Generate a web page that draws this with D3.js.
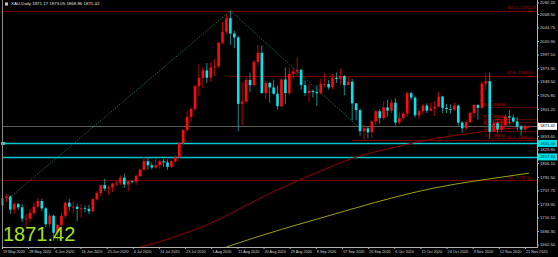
<!DOCTYPE html>
<html>
<head>
<meta charset="utf-8">
<script src="https://cdn.jsdelivr.net/npm/d3@7"></script>
<style>
html, body { margin: 0; padding: 0; background: #000; overflow: hidden; }
</style>
</head>
<body>
<div id="canvas"></div>
<script>
"use strict";

let svgWidth = 558;
let svgHeight = 257;

// Daily bars, 19 May 2020 .. 23 Nov 2020
let opens  = [1732,1745,1748,1725,1735,1729,1709,1709,1719,1730,1740,1727,1699,1714,1684,1698,1714,1737,1730,1730,1726,1727,1726,1722,1743,1754,1768,1762,1764,1771,1772,1781,1769,1775,1774,1784,1795,1810,1803,1799,1803,1810,1808,1800,1810,1817,1842,1865,1888,1902,1942,1957,1970,1957,1975,1977,2019,2038,2062,2035,2028,1911,1915,1953,1944,1985,2001,1930,1948,1940,1929,1907,1954,1930,1964,1968,1971,1944,1930,1934,1932,1930,1946,1946,1940,1957,1955,1960,1944,1950,1912,1900,1863,1868,1861,1880,1898,1886,1905,1899,1913,1878,1886,1894,1930,1922,1891,1898,1908,1899,1903,1906,1924,1904,1902,1901,1908,1878,1868,1879,1895,1909,1904,1947,1951,1862,1877,1866,1873,1889,1887,1880,1871,1866,1871.17];
let highs  = [1746,1753,1750,1738,1736,1735,1717,1726,1737,1745,1744,1729,1718,1716,1699,1720,1739,1744,1740,1735,1735,1732,1733,1745,1757,1768,1779,1767,1771,1776,1785,1788,1775,1776,1787,1797,1818,1818,1808,1815,1812,1814,1813,1812,1820,1843,1866,1898,1906,1945,1981,1975,1983,1984,1990,2020,2055,2069,2075,2040,2031,1950,1958,1966,1988,2015,2014,1951,1950,1954,1943,1956,1975,1975,1974,1993,1973,1952,1946,1936,1944,1955,1965,1953,1964,1966,1973,1962,1959,1955,1912,1903,1874,1872,1882,1900,1902,1916,1918,1919,1921,1896,1898,1933,1932,1925,1902,1911,1912,1913,1916,1932,1925,1911,1910,1913,1910,1881,1882,1897,1911,1911,1951,1965,1966,1883,1880,1881,1892,1900,1892,1888,1874,1875,1873.05];
let lows   = [1726,1738,1717,1718,1724,1703,1693,1703,1715,1727,1722,1694,1693,1670,1670,1693,1710,1723,1719,1704,1711,1720,1717,1720,1741,1748,1758,1751,1756,1766,1768,1763,1757,1771,1768,1782,1794,1795,1796,1797,1797,1800,1795,1798,1806,1815,1838,1862,1880,1899,1925,1939,1948,1950,1960,1975,2016,2033,2015,2009,1863,1874,1912,1932,1942,1979,1929,1920,1913,1927,1901,1905,1911,1926,1955,1960,1936,1925,1915,1922,1907,1928,1940,1936,1937,1948,1945,1926,1944,1882,1882,1855,1848,1850,1851,1874,1876,1882,1889,1895,1873,1875,1883,1889,1918,1887,1885,1892,1895,1898,1890,1905,1895,1895,1894,1899,1873,1860,1865,1877,1887,1883,1902,1935,1850,1862,1860,1861,1870,1874,1877,1864,1855,1860,1868.86];
let closes = [1745,1748,1725,1735,1729,1709,1709,1719,1730,1740,1727,1699,1714,1684,1698,1714,1737,1730,1730,1726,1727,1726,1722,1743,1754,1768,1762,1764,1771,1772,1781,1769,1775,1774,1784,1795,1810,1803,1799,1803,1810,1808,1800,1810,1817,1842,1865,1888,1902,1942,1957,1970,1957,1975,1977,2019,2038,2062,2035,2028,1911,1915,1953,1944,1985,2001,1930,1948,1940,1929,1907,1954,1930,1964,1968,1971,1944,1930,1934,1932,1930,1946,1946,1940,1957,1955,1960,1944,1950,1912,1900,1863,1868,1861,1880,1898,1886,1905,1899,1913,1878,1886,1894,1930,1922,1891,1898,1908,1899,1903,1906,1924,1904,1902,1901,1908,1878,1868,1879,1895,1909,1904,1947,1951,1862,1877,1866,1873,1889,1887,1880,1871,1866,1871.17,1871.42];

// Moving averages, read at a few bars
let maSlowIdx = [35, 40, 45, 50, 60, 70, 80, 89, 100, 110, 120, 125, 134];
let maSlowVal = [1659, 1668, 1680, 1692, 1725, 1760, 1790, 1815, 1835, 1850, 1860, 1865, 1870];
let maLongIdx = [57, 64, 71, 80, 90, 100, 110, 120, 127, 134];
let maLongVal = [1659, 1675, 1690, 1708, 1728, 1747, 1763, 1775, 1782, 1789];

// Axis labels
let priceTicks = ["2092.20","2068.50","2044.75","2020.90","1997.10","1973.30","1949.50","1925.80","1901.20","1877.40","1853.60","1829.80","1806.10","1781.50","1757.75","1733.90","1710.10","1686.30","1662.50"];
let dateTicks = ["19 May 2020","28 May 2020","6 Jun 2020","16 Jun 2020","25 Jun 2020","4 Jul 2020","14 Jul 2020","23 Jul 2020","1 Aug 2020","11 Aug 2020","20 Aug 2020","29 Aug 2020","8 Sep 2020","17 Sep 2020","26 Sep 2020","6 Oct 2020","15 Oct 2020","24 Oct 2020","3 Nov 2020","12 Nov 2020","21 Nov 2020"];

// Big Fibonacci (long lines) and the small one on the November swing
let fibLevels = [
    {name: "100.0", price: 2075.14, from: 0},
    {name: "61.8", price: 1961.00, from: 58},
    {name: "23.6", price: 1847.10, from: 89},
    {name: "0.0", price: 1776.50, from: 0}
];
let fib2Names  = ["100.0", "61.8", "50.0", "38.2", "23.6", "0.0"];
let fib2Prices = [1906.40, 1885.01, 1878.45, 1871.89, 1863.77, 1850.50];
let cyanLevels = [1841.40, 1817.60];
let lastPrice = 1871.42;

let plotRight = 537;
let plotBottom = 247;
let font = "Liberation Sans, Arial, sans-serif";

let svg = d3.select("#canvas")
    .append("svg")
    .attr("width", svgWidth)
    .attr("height", svgHeight)
    .style("display", "block")
    .style("background", "#000");

let xScale = d3.scaleLinear().domain([0, 134]).range([2.5, 529]);
let yScale = d3.scaleLinear().domain([1662.5, 2092.2]).range([245, 1]);

let bars = opens.map((o, i) => ({i: i, o: o, h: highs[i], l: lows[i], c: closes[i]}));

// Fibo lines
fibLevels.forEach(f => {
    svg.append("line")
        .attr("x1", f.from === 0 ? 2 : xScale(f.from))
        .attr("x2", plotRight)
        .attr("y1", Math.round(yScale(f.price)) + 0.5)
        .attr("y2", Math.round(yScale(f.price)) + 0.5)
        .attr("stroke", "#7a0000")
        .attr("stroke-width", 1.2);
    svg.append("text")
        .attr("x", 507)
        .attr("y", yScale(f.price) - 1.5)
        .attr("fill", "#c00000")
        .style("font-family", font)
        .style("font-size", "4px")
        .text(f.name + " - " + f.price.toFixed(2));
});

fib2Prices.forEach((p, k) => {
    svg.append("line")
        .attr("x1", xScale(124) - 2)
        .attr("x2", plotRight)
        .attr("y1", Math.round(yScale(p)) + 0.5)
        .attr("y2", Math.round(yScale(p)) + 0.5)
        .attr("stroke", "#b00000")
        .attr("stroke-width", 0.8)
        .attr("stroke-dasharray", "1.5,1");
    svg.append("text")
        .attr("x", 505)
        .attr("y", yScale(p) - 0.8)
        .attr("text-anchor", "end")
        .attr("fill", "#e00000")
        .style("font-family", font)
        .style("font-size", "3.4px")
        .text(fib2Names[k] + " - " + p.toFixed(2));
});

// Bid line
svg.append("line")
    .attr("x1", 2).attr("x2", plotRight)
    .attr("y1", Math.round(yScale(lastPrice)) + 0.5)
    .attr("y2", Math.round(yScale(lastPrice)) + 0.5)
    .attr("stroke", "#5a5a5a")
    .attr("stroke-width", 1);

// Cyan horizontal lines
cyanLevels.forEach(p => {
    svg.append("line")
        .attr("x1", 2).attr("x2", plotRight)
        .attr("y1", Math.round(yScale(p)) + 0.5)
        .attr("y2", Math.round(yScale(p)) + 0.5)
        .attr("stroke", "#00c8d0")
        .attr("stroke-width", 1.3);
});
svg.append("rect")
    .attr("x", 1).attr("y", yScale(cyanLevels[0]) - 1.5)
    .attr("width", 4).attr("height", 3)
    .attr("fill", "#00e0e8");

// Dotted trend lines
let trend = [[1, 1741], [58, 2075], [91, 1868]];
svg.append("path")
    .attr("d", d3.line().x(d => xScale(d[0])).y(d => yScale(d[1]))(trend))
    .attr("fill", "none")
    .attr("stroke", "#1f8a5a")
    .attr("stroke-width", 1)
    .attr("stroke-dasharray", "1,1.5");

// Moving averages
let maLine = d3.line().x(d => xScale(d[0])).y(d => yScale(d[1])).curve(d3.curveMonotoneX);
svg.append("path")
    .attr("d", maLine(maSlowIdx.map((d, k) => [d, maSlowVal[k]])))
    .attr("fill", "none")
    .attr("stroke", "#9a0000")
    .attr("stroke-width", 1);
svg.append("path")
    .attr("d", maLine(maLongIdx.map((d, k) => [d, maLongVal[k]])))
    .attr("fill", "none")
    .attr("stroke", "#a0a010")
    .attr("stroke-width", 1);

// Candles
let bodyW = 2.6;
svg.selectAll("line.wick")
    .data(bars)
    .join("line")
    .attr("class", "wick")
    .attr("x1", d => xScale(d.i)).attr("x2", d => xScale(d.i))
    .attr("y1", d => yScale(d.h)).attr("y2", d => yScale(d.l))
    .attr("stroke", d => d.c >= d.o ? "#c00000" : "#0a8f94")
    .attr("stroke-width", 1);

svg.selectAll("rect.body")
    .data(bars)
    .join("rect")
    .attr("class", "body")
    .attr("x", d => xScale(d.i) - bodyW / 2)
    .attr("y", d => yScale(Math.max(d.o, d.c)))
    .attr("width", bodyW)
    .attr("height", d => Math.max(0.8, Math.abs(yScale(d.o) - yScale(d.c))))
    .attr("fill", d => d.c >= d.o ? "#ff0a0a" : "#00e6ee");

// Axes frame
svg.append("line")
    .attr("x1", 2.5).attr("x2", 2.5).attr("y1", 0).attr("y2", plotBottom)
    .attr("stroke", "#8a8a8a");
svg.append("line")
    .attr("x1", plotRight + 0.5).attr("x2", plotRight + 0.5).attr("y1", 0).attr("y2", plotBottom)
    .attr("stroke", "#b0b0b0");
svg.append("line")
    .attr("x1", 2).attr("x2", plotRight + 1).attr("y1", plotBottom + 0.5).attr("y2", plotBottom + 0.5)
    .attr("stroke", "#b0b0b0");

// Price ticks (the marker boxes hide the ones they cover)
let boxPrices = [lastPrice].concat(cyanLevels);
priceTicks.forEach(t => {
    let y = Math.max(3, yScale(+t));
    svg.append("line")
        .attr("x1", plotRight).attr("x2", plotRight + 2)
        .attr("y1", y).attr("y2", y)
        .attr("stroke", "#b0b0b0");
    if (boxPrices.some(p => Math.abs(yScale(p) - y) < 6.5)) return;
    svg.append("text")
        .attr("x", 540)
        .attr("y", y)
        .attr("dominant-baseline", "middle")
        .attr("fill", "#d0d0d0")
        .style("font-family", font)
        .style("font-size", "4.2px")
        .text(t);
});

// Price marker boxes
function priceBox(price, bg, fg) {
    let y = yScale(price);
    svg.append("rect")
        .attr("x", plotRight + 1).attr("y", y - 3.5)
        .attr("width", 19).attr("height", 7)
        .attr("fill", bg);
    svg.append("text")
        .attr("x", 540).attr("y", y)
        .attr("dominant-baseline", "middle")
        .attr("fill", fg)
        .style("font-family", font)
        .style("font-size", "4.2px")
        .text(price.toFixed(2));
}
priceBox(lastPrice, "#ffffff", "#000");
cyanLevels.forEach(p => priceBox(p, "#00e0e8", "#003030"));

// Date ticks
let dateScale = d3.scaleLinear().domain([0, dateTicks.length - 1]).range([2, 525]);
dateTicks.forEach((t, k) => {
    let x = dateScale(k);
    svg.append("line")
        .attr("x1", x + 0.5).attr("x2", x + 0.5)
        .attr("y1", plotBottom).attr("y2", plotBottom + 2)
        .attr("stroke", "#b0b0b0");
    svg.append("text")
        .attr("x", x + 1)
        .attr("y", 252)
        .attr("dominant-baseline", "middle")
        .attr("fill", "#d0d0d0")
        .style("font-family", font)
        .style("font-size", "3.8px")
        .text(t);
});

// Title
svg.append("rect").attr("x", 5).attr("y", 2.5).attr("width", 3).attr("height", 3).attr("fill", "#c8c8c8");
svg.append("text")
    .attr("x", 11).attr("y", 4)
    .attr("dominant-baseline", "middle")
    .attr("fill", "#e0e0e0")
    .style("font-family", font)
    .style("font-size", "4.4px")
    .text("XAU,Daily  1871.17 1873.05 1868.86 1871.42");

// Big price
svg.append("text")
    .attr("x", 3).attr("y", 241)
    .attr("fill", "#a4e31c")
    .style("font-family", font)
    .style("font-size", "20px")
    .text(lastPrice.toFixed(2));
</script>
</body>
</html>
